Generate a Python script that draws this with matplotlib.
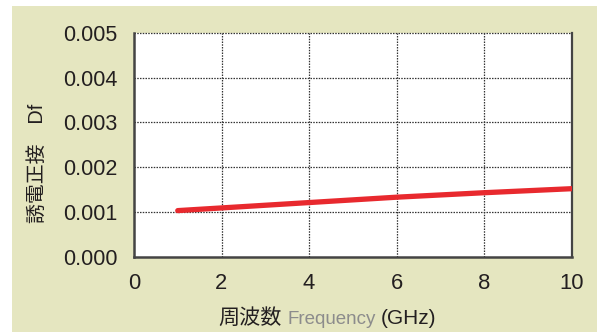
import matplotlib
matplotlib.use("Agg")
import matplotlib.pyplot as plt
from matplotlib.patches import Rectangle
from matplotlib.offsetbox import TextArea, HPacker, AnchoredOffsetbox

freq = [1, 2, 4, 6, 8, 10]
df = [0.00103, 0.00109, 0.00121, 0.00133, 0.00143, 0.00152]
xticks = [0, 2, 4, 6, 8, 10]
yticks = [0.000, 0.001, 0.002, 0.003, 0.004, 0.005]
ytick_labels = ["0.000", "0.001", "0.002", "0.003", "0.004", "0.005"]

W, H = 597, 332
fig = plt.figure(figsize=(W / 100, H / 100), dpi=100)
fig.patch.set_facecolor("white")
bg = "#e5e6c0"
fig.patches.append(Rectangle((12 / W, 0), 1 - 12 / W, 1 - 6 / H, transform=fig.transFigure,
                             facecolor=bg, edgecolor="none", zorder=-10))

L, R, T, B = 134, 571.5, 33, 256.7
ax = fig.add_axes([L / W, 1 - B / H, (R - L) / W, (B - T) / H])
ax.set_zorder(5)
ax.set_facecolor("white")
ax.set_xlim(0, 10)
ax.set_ylim(0, 0.005)

txt = "#231f20"
font = "Liberation Sans"
ax.set_xticks(xticks)
ax.set_xticklabels([str(v) for v in xticks], fontsize=15.8, color=txt, family=font)
ax.set_yticks(yticks)
ax.set_yticklabels(ytick_labels, fontsize=15.5, color=txt, family=font)
ax.tick_params(axis="both", length=0)
ax.tick_params(axis="x", pad=12)
ax.tick_params(axis="y", pad=12)

for v in xticks[1:-1]:
    ax.axvline(v, color="#333333", lw=0.9, ls=(0, (1.2, 1.0)), zorder=1)
for v in yticks[1:]:
    ax.axhline(v, color="#333333", lw=0.9, ls=(0, (1.2, 1.0)), zorder=1, clip_on=False)

for s in ["left", "bottom"]:
    ax.spines[s].set_color("#444444")
    ax.spines[s].set_linewidth(1.8)
ax.spines["right"].set_color("#444444")
ax.spines["right"].set_linewidth(1.6)
ax.spines["top"].set_visible(False)

ax.plot(freq, df, color="#e8292e", lw=3.8, solid_capstyle="round", zorder=3)

# y label
fig.text(37 / W, 1 - 163 / H, "誘電正接　Df", rotation=90, ha="center", va="center",
         fontsize=14.3, color=txt, family=["Liberation Sans", "Noto Sans CJK JP"], zorder=6)

# x label with gray "Frequency"
t1 = TextArea("周波数", textprops=dict(fontsize=15.2, color=txt, family=["Noto Sans CJK JP"]))
t2 = TextArea("Frequency", textprops=dict(fontsize=13.5, color="#8c8c8c", family=font))
t3 = TextArea("(GHz)", textprops=dict(fontsize=15, color=txt, family=font))
pack = HPacker(children=[t1, t2, t3], align="baseline", pad=0, sep=4)
box = AnchoredOffsetbox(loc="center", child=pack, pad=0, frameon=False,
                        bbox_to_anchor=(327.5 / W, 1 - 318 / H), bbox_transform=fig.transFigure,
                        borderpad=0)
box.set_zorder(6)
fig.add_artist(box)

fig.savefig("out.png", dpi=100, facecolor=fig.get_facecolor())
